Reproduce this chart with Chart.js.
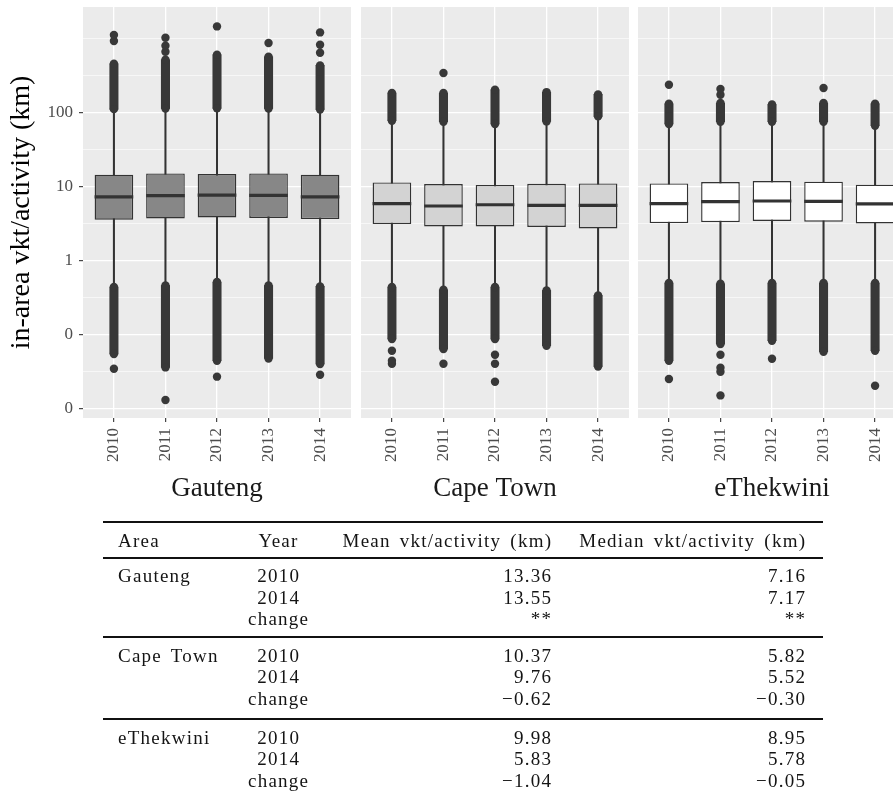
<!DOCTYPE html>
<html lang="en">
<head>
<meta charset="utf-8">
<title>In-area vkt per activity by area and year</title>
<script src="https://cdn.jsdelivr.net/npm/chart.js@4.4.1/dist/chart.umd.min.js"></script>
<style>
  html, body { margin: 0; padding: 0; background: #fff; }
  #figure { position: relative; width: 893px; height: 797px; overflow: hidden; background: #fff; }
  #figure canvas { position: absolute; top: 0; }
  #summary {
    position: absolute; left: 0; top: 0; width: 893px; height: 797px;
    font-family: 'Liberation Serif', 'Times New Roman', serif;
    font-size: 19px; color: #141414; letter-spacing: 1.25px; word-spacing: 3px;
  }
  .cell { position: absolute; height: 24px; line-height: 24px; white-space: nowrap; }
  .rule { position: absolute; background: #111; }
</style>
</head>
<body>
<div id="figure">
  <canvas id="panel-0" width="351" height="510" style="left:0px"></canvas>
  <canvas id="panel-1" width="268" height="510" style="left:361px"></canvas>
  <canvas id="panel-2" width="268" height="510" style="left:638px"></canvas>
  <div id="summary"></div>
</div>
<script>
// ---- data -------------------------------------------------------------
const areas = ['Gauteng', 'Cape Town', 'eThekwini'];
const years = ['2010', '2011', '2012', '2013', '2014'];

// box statistics per [area][year], km per activity
const q1 = [
  [3.52, 3.67, 3.79, 3.72, 3.60],
  [3.08, 2.86, 2.86, 2.81, 2.69],
  [3.18, 3.28, 3.39, 3.31, 3.14]
];
const median = [
  [7.16, 7.44, 7.60, 7.50, 7.17],
  [5.82, 5.40, 5.62, 5.50, 5.52],
  [5.83, 6.18, 6.31, 6.24, 5.78]
];
const q3 = [
  [14.3, 14.9, 14.6, 14.9, 14.3],
  [11.25, 10.7, 10.4, 10.8, 10.9],
  [10.9, 11.4, 11.75, 11.5, 10.48]
];
const whiskerLow = [
  [0.46, 0.47, 0.53, 0.47, 0.46],
  [0.46, 0.42, 0.46, 0.41, 0.36],
  [0.52, 0.51, 0.52, 0.52, 0.52]
];
const whiskerHigh = [
  [104, 105, 106, 105, 103],
  [72, 70, 65, 71, 82],
  [65, 70, 70, 70, 62]
];
// dense runs of outliers: [smallest, largest]
const upperRun = [
  [[110, 452], [112, 512], [113, 598], [112, 562], [109, 429]],
  [[76.8, 182], [74.4, 182], [69.3, 201], [75.1, 187], [87.8, 174]],
  [[69.3, 130], [74.4, 133], [74.4, 127], [74.4, 133], [65.7, 130]]
];
const lowerRun = [
  [[0.054, 0.434], [0.0356, 0.456], [0.0438, 0.507], [0.0471, 0.456], [0.0396, 0.443]],
  [[0.0861, 0.434], [0.0631, 0.399], [0.0861, 0.434], [0.070, 0.391], [0.0367, 0.334]],
  [[0.0438, 0.492], [0.0737, 0.481], [0.0817, 0.492], [0.058, 0.492], [0.0598, 0.492]]
];
// isolated outliers
const outliers = [
  [[916, 1105, 0.0342], [657, 792, 1016, 0.0129], [1443, 0.0267], [861], [637, 817, 1197, 0.0284]],
  [[0.0598, 0.0438, 0.0399], [339, 0.0399], [0.0528, 0.0399, 0.0228], [], []],
  [[235, 0.0248], [172, 206, 0.0528, 0.0353, 0.0311, 0.0149], [0.0467], [212], [0.0201]]
];

const yBreaks = [0.01, 0.1, 1, 10, 100];
const yBreakLabels = ['0', '0', '1', '10', '100'];

// summary table
const tableHeader = ['Area', 'Year', 'Mean vkt/activity (km)', 'Median vkt/activity (km)'];
const tableYears = ['2010', '2014', 'change'];
const meanKm = [
  ['13.36', '13.55', '**'],
  ['10.37', '9.76', '\u22120.62'],
  ['9.98', '5.83', '\u22121.04']
];
const medianKm = [
  ['7.16', '7.17', '**'],
  ['5.82', '5.52', '\u22120.30'],
  ['8.95', '5.78', '\u22120.05']
];

// ---- styling ----------------------------------------------------------
const Y_MIN = 0.00738, Y_MAX = 2640;
const boxFill = ['#878787', '#D3D3D3', '#FFFFFF'];
const INK = '#333333';
const DOT = '#383838';

Chart.defaults.font.family = "'Liberation Serif', 'Times New Roman', serif";

// minor breaks half way (in log space) between the major ones, extended past the ends
function minorBreaks(br) {
  const lg = br.map(Math.log10);
  const step = lg[1] - lg[0];
  const ext = [lg[0] - step, ...lg, lg[lg.length - 1] + step];
  const out = [];
  for (let i = 0; i < ext.length - 1; i++) out.push(ext[i], (ext[i] + ext[i + 1]) / 2);
  out.push(ext[ext.length - 1]);
  return out
    .filter(l => !lg.some(m => Math.abs(m - l) < 1e-9))
    .map(l => Math.pow(10, l))
    .filter(v => v >= Y_MIN && v <= Y_MAX);
}
const yTicks = [
  ...yBreaks.map(v => ({ value: v })),
  ...minorBreaks(yBreaks).map(v => ({ value: v }))
].sort((a, b) => a.value - b.value);

function majorIndex(v) {
  return yBreaks.findIndex(b => Math.abs(Math.log10(b) - Math.log10(v)) < 1e-6);
}
function isMajorCtx(c) {
  return c.tick ? majorIndex(c.tick.value) >= 0 : false;
}

const panelBackground = {
  id: 'panelBackground',
  beforeDraw(chart) {
    const { ctx, chartArea: a } = chart;
    ctx.save();
    ctx.fillStyle = '#EBEBEB';
    ctx.fillRect(a.left, a.top, a.right - a.left, a.bottom - a.top);
    ctx.restore();
  }
};

function zeroPadding(s) {
  s.paddingLeft = 0; s.paddingRight = 0; s.paddingTop = 0; s.paddingBottom = 0;
}

function buildPanel(a) {
  const xs = years.map((_, i) => i + 1);
  const first = a === 0;
  const dots = [];
  xs.forEach((x, i) => {
    outliers[a][i].forEach(v => dots.push({ x, y: v }));
    upperRun[a][i].forEach(v => dots.push({ x, y: v }));
    lowerRun[a][i].forEach(v => dots.push({ x, y: v }));
  });
  const halfBox = ctx => {
    const sx = ctx.chart.scales.x;
    return (sx.getPixelForValue(2) - sx.getPixelForValue(1)) * 0.75 / 2;
  };

  return new Chart(document.getElementById('panel-' + a), {
    type: 'bar',
    data: {
      datasets: [
        {
          label: 'whiskers',
          data: xs.map((x, i) => ({ x, y: [whiskerLow[a][i], whiskerHigh[a][i]] })),
          backgroundColor: INK, barThickness: 1.4, grouped: false, order: 6
        },
        {
          label: 'upper outliers',
          data: xs.map((x, i) => ({ x, y: upperRun[a][i] })),
          backgroundColor: DOT, barThickness: 8.4, grouped: false, order: 5
        },
        {
          label: 'lower outliers',
          data: xs.map((x, i) => ({ x, y: lowerRun[a][i] })),
          backgroundColor: DOT, barThickness: 8.4, grouped: false, order: 5
        },
        {
          type: 'scatter', label: 'outlier points', data: dots,
          pointRadius: 4.2, pointBackgroundColor: DOT, pointBorderWidth: 0, order: 4
        },
        {
          label: 'interquartile range',
          data: xs.map((x, i) => ({ x, y: [q1[a][i], q3[a][i]] })),
          backgroundColor: boxFill[a], borderColor: INK, borderWidth: 1.4,
          borderSkipped: false, barPercentage: 0.75, categoryPercentage: 1,
          grouped: false, order: 2
        },
        {
          type: 'scatter', label: 'median',
          data: xs.map((x, i) => ({ x, y: median[a][i] })),
          pointStyle: 'line', pointRadius: halfBox,
          pointBorderColor: INK, pointBorderWidth: 3.2, order: 1
        }
      ]
    },
    options: {
      responsive: false,
      animation: false,
      events: [],
      layout: { autoPadding: false, padding: { top: 7, left: 0, right: 0, bottom: 0 } },
      plugins: { legend: { display: false }, tooltip: { enabled: false } },
      scales: {
        x: {
          type: 'linear', min: 0.4, max: 5.6, offset: false,
          afterBuildTicks: s => { s.ticks = xs.map(v => ({ value: v })); },
          afterFit: s => { s.height = 92; zeroPadding(s); },
          ticks: {
            autoSkip: false, minRotation: 90, maxRotation: 90, padding: 6,
            color: '#4D4D4D', font: { size: 17 },
            callback: v => years[Math.round(v) - 1]
          },
          grid: {
            color: '#FFFFFF', lineWidth: 1.3, offset: false,
            drawTicks: true, tickLength: 4, tickColor: INK, tickWidth: 1.1
          },
          border: { display: false },
          title: {
            display: true, text: areas[a], color: '#1A1A1A',
            font: { size: 27, lineHeight: 1.2 }, padding: { top: 0, bottom: 5 }
          }
        },
        y: {
          type: 'logarithmic', min: Y_MIN, max: Y_MAX, beginAtZero: false,
          afterBuildTicks: s => { s.ticks = yTicks.map(t => ({ value: t.value })); },
          afterFit: s => { s.width = first ? 83 : 0; zeroPadding(s); },
          ticks: {
            display: first, autoSkip: false, padding: 6,
            color: '#4D4D4D', font: { size: 17 },
            callback: v => { const k = majorIndex(v); return k >= 0 ? yBreakLabels[k] : ''; }
          },
          grid: {
            color: '#FFFFFF',
            lineWidth: c => isMajorCtx(c) ? 1.3 : 0.6,
            drawTicks: first, tickLength: 4,
            tickColor: c => isMajorCtx(c) ? INK : 'rgba(0,0,0,0)',
            tickWidth: 1.1
          },
          border: { display: false },
          title: {
            display: first, text: 'in-area vkt/activity (km)', color: '#000000',
            font: { size: 28, lineHeight: 1.2 }, padding: { top: 5, bottom: 0 }
          }
        }
      }
    },
    plugins: [panelBackground]
  });
}

areas.forEach((_, a) => buildPanel(a));

// ---- summary table ----------------------------------------------------
const summary = document.getElementById('summary');
const LS = 1.25;
const colArea = 118, colYear = 278, colMean = 551, colMedian = 805;
const tableLeft = 103, tableRight = 823;

function cell(text, x, yMid, align) {
  const d = document.createElement('div');
  d.className = 'cell';
  d.textContent = text;
  const w = 320;
  d.style.top = (yMid - 12) + 'px';
  if (align === 'left') {
    d.style.left = x + 'px';
  } else if (align === 'right') {
    d.style.left = (x + LS - w) + 'px'; d.style.width = w + 'px'; d.style.textAlign = 'right';
  } else {
    d.style.left = (x + LS / 2 - w / 2) + 'px'; d.style.width = w + 'px'; d.style.textAlign = 'center';
  }
  summary.appendChild(d);
}
function rule(yMid, h) {
  const d = document.createElement('div');
  d.className = 'rule';
  d.style.left = tableLeft + 'px';
  d.style.width = (tableRight - tableLeft) + 'px';
  d.style.top = (yMid - h / 2) + 'px';
  d.style.height = h + 'px';
  summary.appendChild(d);
}

rule(522, 2.6);
cell(tableHeader[0], colArea, 541, 'left');
cell(tableHeader[1], colYear, 541, 'center');
cell(tableHeader[2], colMean, 541, 'right');
cell(tableHeader[3], colMedian, 541, 'right');
rule(557.5, 2);

const groupTop = [576, 655.5, 737.5];
const rowStep = 21.5;
areas.forEach((area, g) => {
  if (g > 0) rule(groupTop[g] - 19, 2);
  cell(area, colArea, groupTop[g], 'left');
  tableYears.forEach((yr, r) => {
    const y = groupTop[g] + r * rowStep;
    cell(yr, colYear, y, 'center');
    cell(meanKm[g][r], colMean, y, 'right');
    cell(medianKm[g][r], colMedian, y, 'right');
  });
});
</script>
</body>
</html>
